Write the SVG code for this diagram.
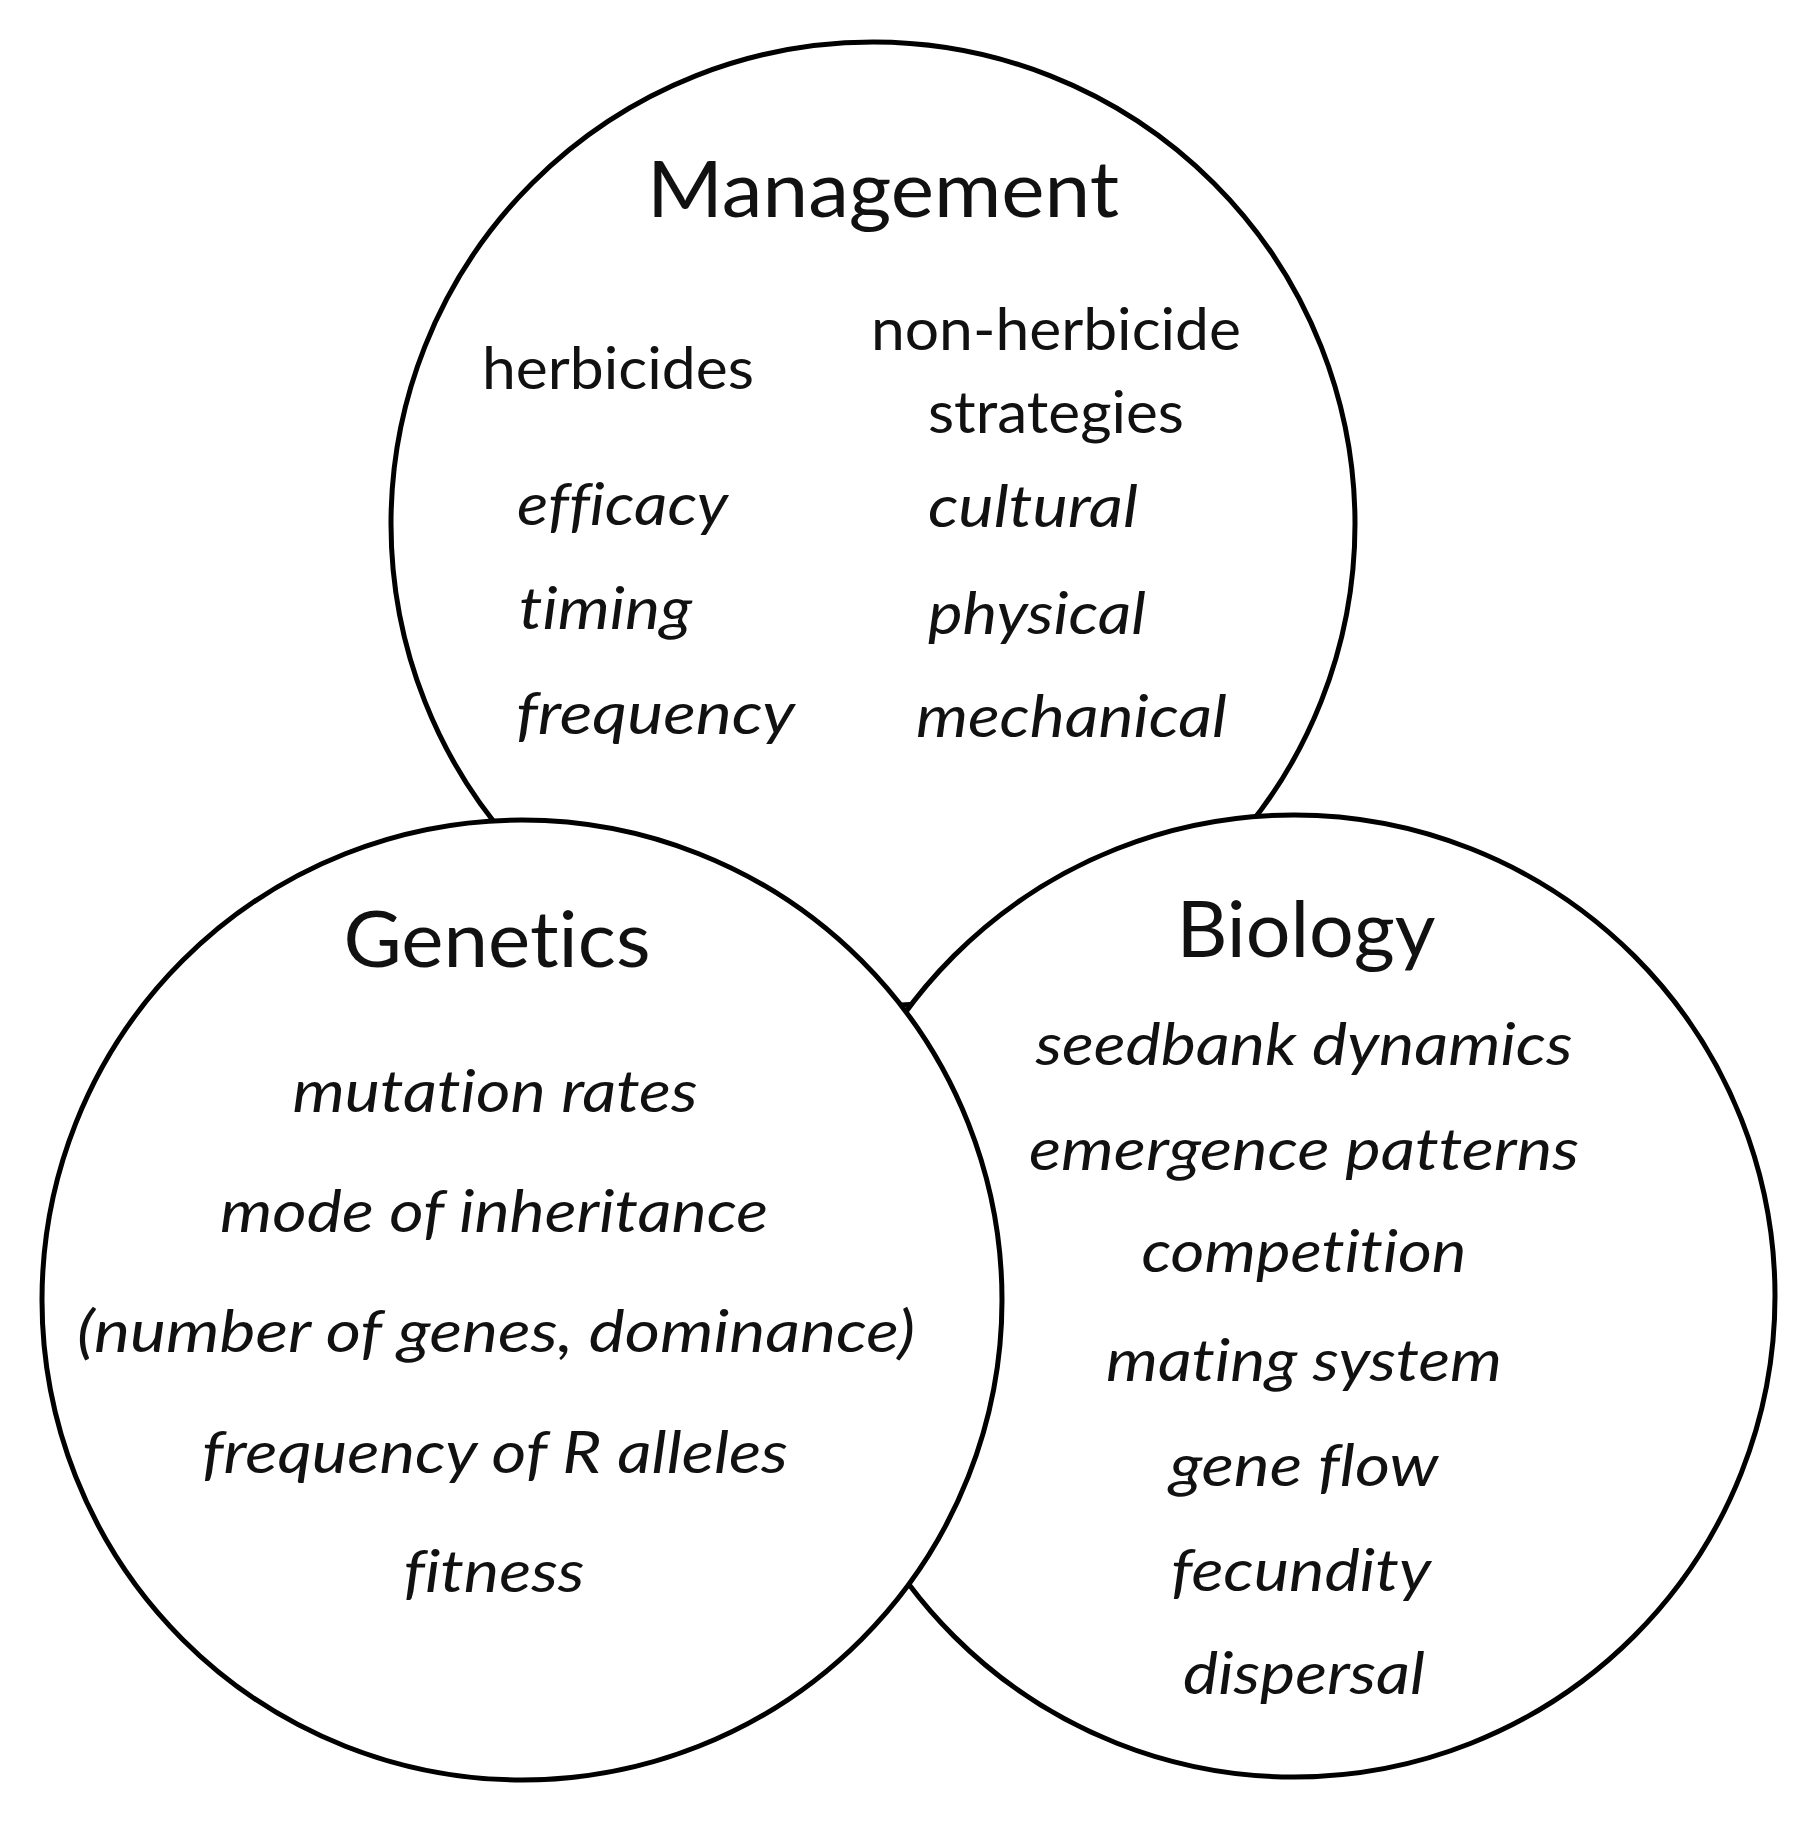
<svg xmlns="http://www.w3.org/2000/svg" width="1812" height="1827" viewBox="0 0 1812 1827">
<style>
.ring{fill:#fff;stroke:#000;stroke-width:5}
.h,.b,.i{font-family:Lato,"Open Sans","Liberation Sans",sans-serif;fill:#111;font-variant-ligatures:none;font-feature-settings:"liga" 0,"clig" 0}
.h{font-size:77px}
.b{font-size:58px}
.i{font-size:58px;font-style:italic}
.m{text-anchor:middle}
</style>
<rect width="1812" height="1827" fill="#fff"/>
<g id="management">
<circle class="ring" cx="873" cy="524" r="482"/>
<text class="h m" x="883" y="217" textLength="472" lengthAdjust="spacingAndGlyphs">Management</text>
<text class="b" x="482" y="389" textLength="272" lengthAdjust="spacingAndGlyphs">herbicides</text>
<text class="b" x="871" y="350" textLength="370" lengthAdjust="spacingAndGlyphs">non-herbicide</text>
<text class="b" x="928" y="433" textLength="256" lengthAdjust="spacingAndGlyphs">strategies</text>
<text class="i" x="517" y="525" textLength="211" lengthAdjust="spacingAndGlyphs">efficacy</text>
<text class="i" x="519" y="629" textLength="173" lengthAdjust="spacingAndGlyphs">timing</text>
<text class="i" x="516" y="734" textLength="279" lengthAdjust="spacingAndGlyphs">frequency</text>
<text class="i" x="928" y="527" textLength="210" lengthAdjust="spacingAndGlyphs">cultural</text>
<text class="i" x="928" y="634" textLength="218" lengthAdjust="spacingAndGlyphs">physical</text>
<text class="i" x="916" y="737" textLength="311" lengthAdjust="spacingAndGlyphs">mechanical</text>
</g>
<g id="biology">
<circle class="ring" cx="1294" cy="1296" r="481"/>
<text class="h m" x="1306" y="957" textLength="259" lengthAdjust="spacingAndGlyphs">Biology</text>
<text class="i m" x="1304" y="1065" textLength="537" lengthAdjust="spacingAndGlyphs">seedbank dynamics</text>
<text class="i m" x="1304" y="1170" textLength="550" lengthAdjust="spacingAndGlyphs">emergence patterns</text>
<text class="i m" x="1304" y="1272" textLength="325" lengthAdjust="spacingAndGlyphs">competition</text>
<text class="i m" x="1304" y="1381" textLength="396" lengthAdjust="spacingAndGlyphs">mating system</text>
<text class="i m" x="1304" y="1486" textLength="269" lengthAdjust="spacingAndGlyphs">gene flow</text>
<text class="i m" x="1301" y="1591" textLength="260" lengthAdjust="spacingAndGlyphs">fecundity</text>
<text class="i m" x="1304" y="1694" textLength="242" lengthAdjust="spacingAndGlyphs">dispersal</text>
</g>
<g id="genetics">
<circle class="ring" cx="522" cy="1300" r="480"/>
<text class="h m" x="497" y="967" textLength="307" lengthAdjust="spacingAndGlyphs">Genetics</text>
<text class="i m" x="495" y="1112" textLength="405" lengthAdjust="spacingAndGlyphs">mutation rates</text>
<text class="i m" x="494" y="1232" textLength="548" lengthAdjust="spacingAndGlyphs">mode of inheritance</text>
<text class="i m" x="496" y="1352" textLength="838" lengthAdjust="spacingAndGlyphs">(number of genes, dominance)</text>
<text class="i m" x="495" y="1473" textLength="586" lengthAdjust="spacingAndGlyphs">frequency of R alleles</text>
<text class="i m" x="494" y="1592" textLength="181" lengthAdjust="spacingAndGlyphs">fitness</text>
</g>
<g id="connectors"/>
</svg>
